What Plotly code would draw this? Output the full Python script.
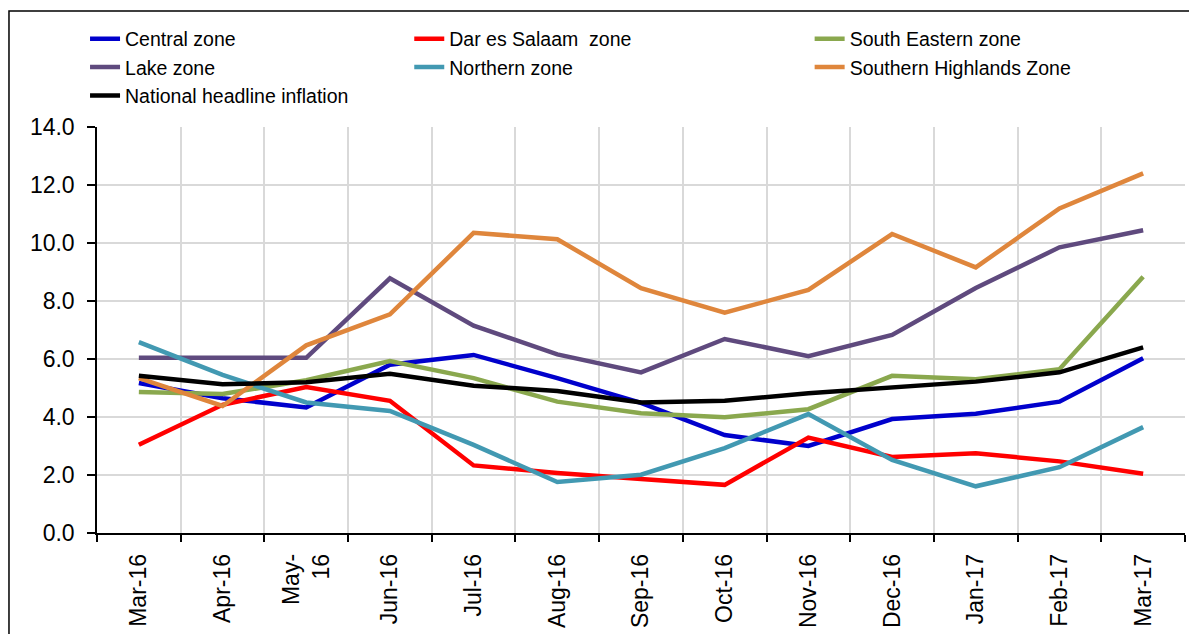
import plotly.graph_objects as go

months = ["Mar-16", "Apr-16", "May-16", "Jun-16", "Jul-16", "Aug-16", "Sep-16",
          "Oct-16", "Nov-16", "Dec-16", "Jan-17", "Feb-17", "Mar-17"]
tick_text = ["Mar-16", "Apr-16", "May-<br>16", "Jun-16", "Jul-16", "Aug-16", "Sep-16",
             "Oct-16", "Nov-16", "Dec-16", "Jan-17", "Feb-17", "Mar-17"]

central = [5.17, 4.65, 4.33, 5.80, 6.14, 5.34, 4.49, 3.38, 3.00, 3.93, 4.11, 4.53, 6.03]
dar = [3.04, 4.42, 5.03, 4.56, 2.33, 2.07, 1.86, 1.66, 3.29, 2.62, 2.75, 2.47, 2.04]
south_eastern = [4.86, 4.79, 5.27, 5.93, 5.34, 4.53, 4.13, 3.99, 4.27, 5.42, 5.30, 5.65, 8.84]
lake = [6.04, 6.04, 6.04, 8.78, 7.15, 6.16, 5.54, 6.69, 6.10, 6.83, 8.45, 9.85, 10.44]
northern = [6.58, 5.45, 4.50, 4.21, 3.04, 1.76, 2.01, 2.93, 4.10, 2.52, 1.61, 2.27, 3.65]
southern_highlands = [5.34, 4.38, 6.47, 7.54, 10.35, 10.13, 8.44, 7.60, 8.38, 10.31, 9.16, 11.19, 12.40]
national = [5.42, 5.13, 5.20, 5.49, 5.08, 4.90, 4.50, 4.56, 4.82, 5.01, 5.22, 5.54, 6.40]

series = [
    ("Central zone", central, "#0000CC", "legend"),
    ("Dar es Salaam  zone", dar, "#FF0000", "legend2"),
    ("South Eastern zone", south_eastern, "#8AA84E", "legend3"),
    ("Lake zone", lake, "#5F4A7E", "legend"),
    ("Northern zone", northern, "#4299B2", "legend2"),
    ("Southern Highlands Zone", southern_highlands, "#DF863C", "legend3"),
    ("National headline inflation", national, "#000000", "legend"),
]

fig = go.Figure()
for i, (name, vals, color, leg) in enumerate(series):
    fig.add_trace(go.Scatter(
        x=months, y=vals, name=name, mode="lines",
        line=dict(color=color, width=4.5),
        legend=leg, legendgroup=name,
    ))

FONT = "Liberation Sans, Arial, sans-serif"
leg_common = dict(
    orientation="v", xanchor="left", yanchor="top",
    font=dict(family=FONT, size=19.5, color="#000000"),
    bgcolor="rgba(0,0,0,0)", tracegroupgap=6, traceorder="normal",
)

# page body has an 8px margin: figure is sized/offset to compensate
fig.update_layout(
    width=1189, height=626,
    margin=dict(l=89, r=12, t=119, b=101, autoexpand=False),
    paper_bgcolor="#FFFFFF", plot_bgcolor="#FFFFFF",
    font=dict(family=FONT, color="#000000"),
    showlegend=True,
    legend=dict(x=-0.011, y=1.2646, **leg_common),
    legend2=dict(x=0.287, y=1.2646, **leg_common),
    legend3=dict(x=0.655, y=1.2646, **leg_common),
    xaxis=dict(
        type="category", tickson="boundaries", automargin=False,
        tickvals=months, ticktext=tick_text, tickangle=-90,
        tickfont=dict(family=FONT, size=23, color="#000000"),
        ticklabelstandoff=10,
        showgrid=True, gridcolor="#D9D9D9", gridwidth=1.5,
        showline=True, linecolor="#000000", linewidth=1.5,
        ticks="outside", ticklen=7, tickwidth=1.5, tickcolor="#000000",
        range=[-0.5, 12.5],
    ),
    yaxis=dict(
        range=[0, 14], dtick=2, tickformat=".1f", automargin=False,
        tickfont=dict(family=FONT, size=23, color="#000000"),
        ticklabelstandoff=8,
        showgrid=True, gridcolor="#D9D9D9", gridwidth=1.5,
        showline=True, linecolor="#000000", linewidth=1.5,
        ticks="outside", ticklen=8, tickwidth=1.5, tickcolor="#000000",
        zeroline=False,
    ),
    shapes=[dict(
        type="rect", xref="paper", yref="paper",
        x0=-0.0809, x1=1.05, y0=-0.4, y1=1.2857,
        line=dict(color="#000000", width=1.5), fillcolor="rgba(0,0,0,0)",
        layer="below",
    )],
)

fig.write_html("out.html")
